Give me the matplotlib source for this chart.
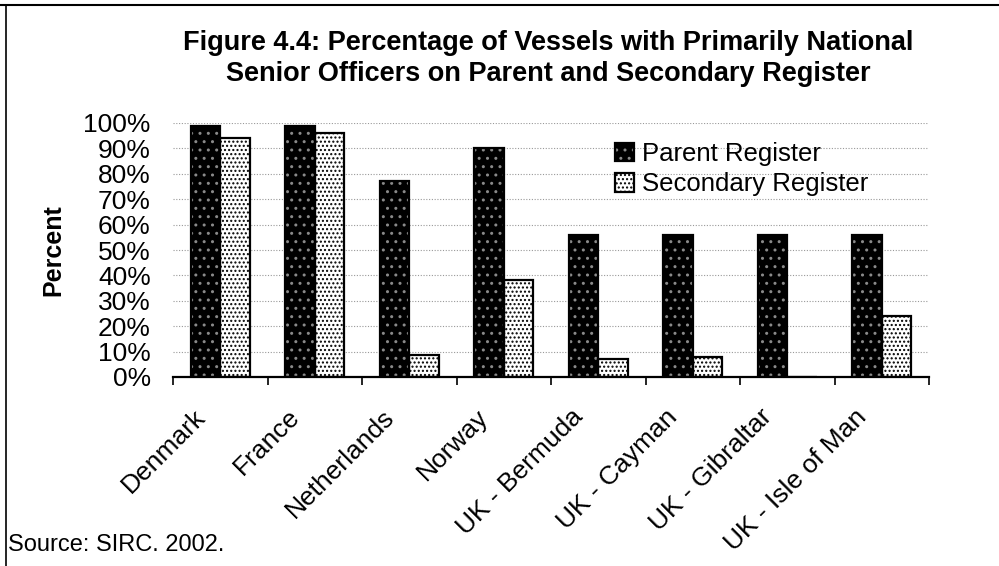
import matplotlib
matplotlib.use("Agg")
import matplotlib.pyplot as plt
from matplotlib.lines import Line2D
from matplotlib.legend_handler import HandlerTuple
from matplotlib.transforms import ScaledTranslation
import numpy as np

categories = ["Denmark", "France", "Netherlands", "Norway",
              "UK - Bermuda", "UK - Cayman", "UK - Gibraltar", "UK - Isle of Man"]
parent = [99, 99, 77, 90, 56, 56, 56, 56]
secondary = [94, 96, 8.5, 38, 7, 8, 0, 24]
yticks = [0, 10, 20, 30, 40, 50, 60, 70, 80, 90, 100]
title = ("Figure 4.4: Percentage of Vessels with Primarily National\n"
         "Senior Officers on Parent and Secondary Register")
source = "Source: SIRC. 2002."

plt.rcParams['font.family'] = ['Liberation Sans', 'DejaVu Sans']

W, H = 999, 566
fig = plt.figure(figsize=(W / 100, H / 100), dpi=100)
ax = fig.add_axes([173 / W, 1 - 377 / H, (929 - 173) / W, (377 - 123) / H])

x = np.arange(len(categories))
bw = 0.31
off = 0.155

# gridlines
for v in yticks[1:]:
    ax.axhline(v, color='#999999', lw=0.8, ls=(0, (1, 1.5)), zorder=0)

p_fill = ax.bar(x - off, parent, bw, color='black', edgecolor='#8a8a8a',
                hatch='..', lw=0, zorder=2)
p_line = ax.bar(x - off, parent, bw, fill=False, edgecolor='black', lw=1.6, zorder=3)
s_fill = ax.bar(x + off, secondary, bw, color='white', edgecolor='black',
                hatch='....', lw=0, zorder=2)
s_line = ax.bar(x + off, secondary, bw, fill=False, edgecolor='black', lw=1.6, zorder=3)

ax.set_xlim(-0.5, len(categories) - 0.5)
ax.set_ylim(0, 100)
ax.set_yticks(yticks)
ax.set_yticklabels([f"{v}%" for v in yticks], fontsize=19)
ax.tick_params(axis='y', length=0, pad=16)

ax.set_xticks(x)
ax.set_xticklabels(categories, fontsize=19, rotation=45, ha='right',
                   va='center', rotation_mode='anchor')
ax.tick_params(axis='x', which='major', length=0, pad=26)
shift = ScaledTranslation(-19 / 100, 0, fig.dpi_scale_trans)
for lab in ax.get_xticklabels():
    lab.set_transform(lab.get_transform() + shift)
ax.set_xticks(np.arange(len(categories) + 1) - 0.5, minor=True)
ax.tick_params(axis='x', which='minor', length=6, width=1.2, direction='out')

for s in ['top', 'right', 'left']:
    ax.spines[s].set_visible(False)
ax.spines['bottom'].set_linewidth(1.6)
ax.spines['bottom'].set_zorder(4)

ax.set_ylabel("Percent", fontsize=18, fontweight='bold')
ax.yaxis.set_label_coords(-(173 - 65) / (929 - 173), 0.5)

leg = fig.legend([(p_fill[0], p_line[0]), (s_fill[0], s_line[0])],
                 ["Parent Register", "Secondary Register"],
                 handler_map={tuple: HandlerTuple(ndivide=1)},
                 loc='upper left', bbox_to_anchor=(615 / W, 1 - 142 / H),
                 frameon=False, fontsize=18.5, handlelength=0.75, handleheight=0.75,
                 handletextpad=0.3, labelspacing=0.25, borderpad=0, borderaxespad=0)

fig.text(548 / W, 1 - 58 / H, title, ha='center', va='center', fontsize=19.5,
         fontweight='bold', linespacing=1.25)
fig.text(8 / W, 1 - 545 / H, source, ha='left', va='center', fontsize=17)

# page border lines
fig.add_artist(Line2D([0, 1], [1 - 5 / H, 1 - 5 / H], color='black', lw=1.5,
                      transform=fig.transFigure))
fig.add_artist(Line2D([6 / W, 6 / W], [0, 1 - 5 / H], color='black', lw=1.2,
                      transform=fig.transFigure))

fig.savefig("out.png", dpi=100)
